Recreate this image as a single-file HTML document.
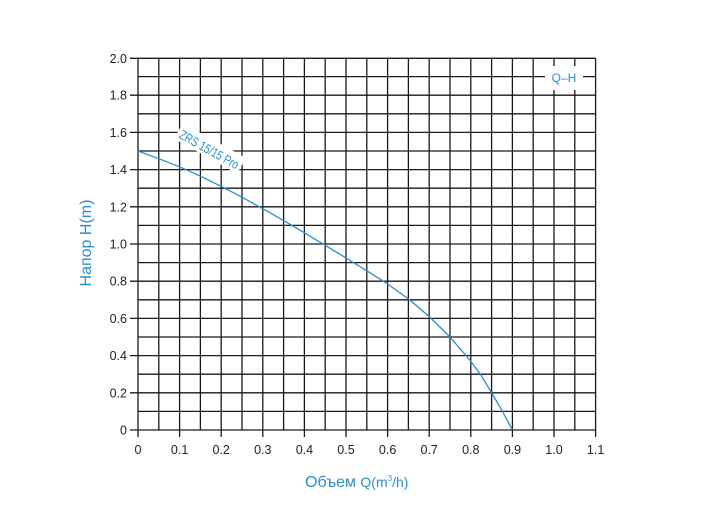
<!DOCTYPE html>
<html><head><meta charset="utf-8"><style>html,body{margin:0;padding:0;background:#fff}svg{display:block}</style></head><body>
<svg width="706" height="511" xmlns="http://www.w3.org/2000/svg" font-family="Liberation Sans, Arial, sans-serif">
<g stroke="#1a1a1a" stroke-width="1.3" fill="none">
<path d="
M138,58.3V430 M158.8,58.3V430 M179.6,58.3V430 M200.4,58.3V430 M221.2,58.3V430 M242,58.3V430 M262.8,58.3V430 M283.6,58.3V430 M304.4,58.3V430 M325.2,58.3V430 M346,58.3V430 M366.8,58.3V430 M387.6,58.3V430 M408.4,58.3V430 M429.2,58.3V430 M450,58.3V430 M470.8,58.3V430 M491.6,58.3V430 M512.4,58.3V430 M533.2,58.3V430 M554,58.3V430 M574.8,58.3V430 M595.6,58.3V430
M138,430H595.6 M138,411.4H595.6 M138,392.8H595.6 M138,374.2H595.6 M138,355.6H595.6 M138,337H595.6 M138,318.4H595.6 M138,299.8H595.6 M138,281.2H595.6 M138,262.6H595.6 M138,244H595.6 M138,225.4H595.6 M138,206.8H595.6 M138,188.2H595.6 M138,169.6H595.6 M138,151H595.6 M138,132.4H595.6 M138,113.8H595.6 M138,95.2H595.6 M138,76.6H595.6 M138,58.3H595.6
M130,430H138 M130,392.8H138 M130,355.6H138 M130,318.4H138 M130,281.2H138 M130,244H138 M130,206.8H138 M130,169.6H138 M130,132.4H138 M130,95.2H138 M130,58.3H138
M138,430V437 M179.6,430V437 M221.2,430V437 M262.8,430V437 M304.4,430V437 M346,430V437 M387.6,430V437 M429.2,430V437 M470.8,430V437 M512.4,430V437 M554,430V437 M595.6,430V437"/>
</g>
<g font-size="12.5" fill="#222" text-anchor="end">
<text x="127" y="434.5">0</text><text x="127" y="397.3">0.2</text><text x="127" y="360.1">0.4</text><text x="127" y="322.9">0.6</text><text x="127" y="285.7">0.8</text><text x="127" y="248.5">1.0</text><text x="127" y="211.3">1.2</text><text x="127" y="174.1">1.4</text><text x="127" y="136.9">1.6</text><text x="127" y="99.7">1.8</text><text x="127" y="62.8">2.0</text>
</g>
<g font-size="12.5" fill="#222" text-anchor="middle">
<text x="138" y="454">0</text><text x="179.6" y="454">0.1</text><text x="221.2" y="454">0.2</text><text x="262.8" y="454">0.3</text><text x="304.4" y="454">0.4</text><text x="346" y="454">0.5</text><text x="387.6" y="454">0.6</text><text x="429.2" y="454">0.7</text><text x="470.8" y="454">0.8</text><text x="512.4" y="454">0.9</text><text x="554" y="454">1.0</text><text x="595.6" y="454">1.1</text>
</g>
<rect x="545" y="66" width="38" height="24" fill="#fff"/>
<text x="564" y="82" font-size="12" fill="#2a8fc9" text-anchor="middle">Q–H</text>
<polyline points="138,151 158.8,158.7 179.6,166.8 200.4,176.2 221.2,186.3 242,197.2 262.8,208.7 283.6,220.6 304.4,232.8 325.2,245.3 346,258 366.8,270.8 387.6,284 408.4,298.9 429.2,316.5 450,337 470.8,361.2 481.2,375.5 491.6,392.8 502,410.5 512.4,430" fill="none" stroke="#2a8fc9" stroke-width="1.3" stroke-linejoin="round"/>
<g transform="translate(209,150) rotate(29)">
<rect x="-36" y="-11" width="72" height="18" fill="#fff"/>
<text x="0" y="4" font-size="13" fill="#2a8fc9" text-anchor="middle" textLength="66" lengthAdjust="spacingAndGlyphs">ZRS 15/15 Pro</text>
</g>
<text transform="translate(91,243) rotate(-90)" font-size="16" fill="#2a8fc9" text-anchor="middle">Напор H(m)</text>
<text x="305" y="487" font-size="16" fill="#2a8fc9">Объем <tspan font-size="14">Q(m</tspan><tspan font-size="8" dy="-6">3</tspan><tspan font-size="14" dy="6">/h)</tspan></text>
</svg>
</body></html>
